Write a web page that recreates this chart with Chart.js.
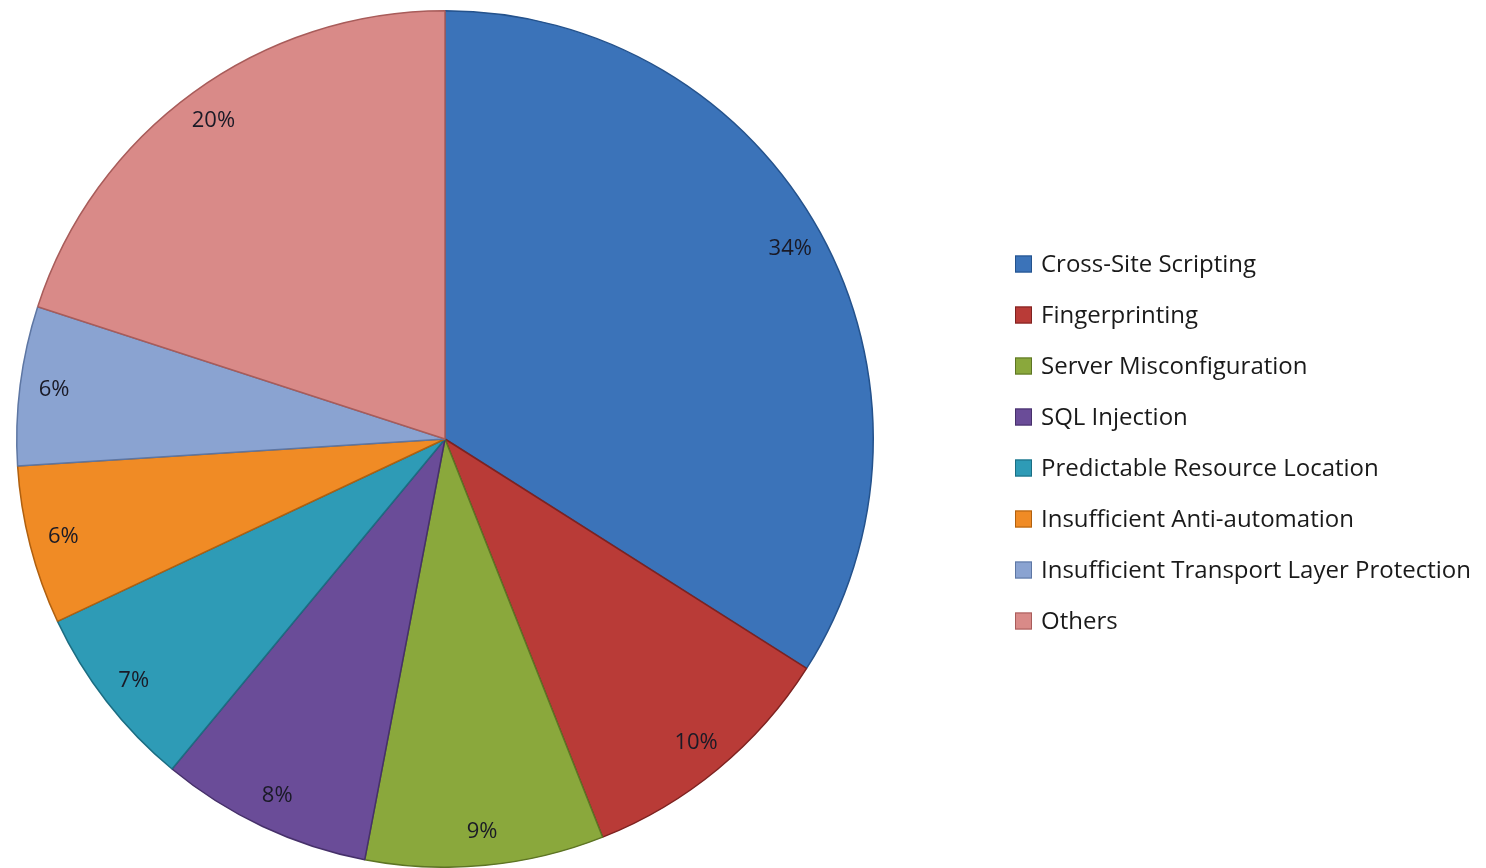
<!DOCTYPE html>
<html>
<head>
<meta charset="utf-8">
<script src="https://cdn.jsdelivr.net/npm/chart.js@4.4.1/dist/chart.umd.min.js"></script>
<style>
  html, body { margin: 0; padding: 0; background: #fff; }
  #wrap { width: 1486px; height: 868px; position: relative; }
</style>
</head>
<body>
<div id="wrap"><canvas id="pieChart" width="1486" height="868"></canvas></div>
<script>
const categories = [
    'Cross-Site Scripting',
    'Fingerprinting',
    'Server Misconfiguration',
    'SQL Injection',
    'Predictable Resource Location',
    'Insufficient Anti-automation',
    'Insufficient Transport Layer Protection',
    'Others'
];
const shares = [34, 10, 9, 8, 7, 6, 6, 20];
const sliceColors = ['#3b73b9', '#b93b37', '#8aa83c', '#6a4c98', '#2e9bb6', '#f08b25', '#8aa3d1', '#d98a88'];
const edgeColors = ['#24528c', '#7e2220', '#5d7424', '#46306a', '#1b6d82', '#b0600f', '#5d76a3', '#a85c5a'];

const ctx = document.getElementById('pieChart').getContext('2d');

// Percentage labels inside each slice, pushed out toward the rim
const sliceLabels = {
    id: 'sliceLabels',
    afterDatasetsDraw(chart) {
        const { ctx } = chart;
        const meta = chart.getDatasetMeta(0);
        ctx.save();
        ctx.font = '22px "Open Sans", "DejaVu Sans", sans-serif';
        ctx.fillStyle = '#1a1a26';
        ctx.textAlign = 'center';
        ctx.textBaseline = 'middle';
        meta.data.forEach((arc, i) => {
            const mid = (arc.startAngle + arc.endAngle) / 2;
            const r = arc.outerRadius * 0.92;
            const x = arc.x + Math.cos(mid) * r;
            const y = arc.y + Math.sin(mid) * r;
            ctx.fillText(shares[i] + '%', x, y);
        });
        ctx.restore();
    }
};

// Legend list on the right side
const sideLegend = {
    id: 'sideLegend',
    afterDraw(chart) {
        const { ctx } = chart;
        const left = 1015, top = 264, step = 51, box = 17;
        ctx.save();
        ctx.font = '24px "Open Sans", "DejaVu Sans", sans-serif';
        ctx.textBaseline = 'middle';
        categories.forEach((name, i) => {
            const y = top + i * step;
            ctx.fillStyle = sliceColors[i];
            ctx.fillRect(left, y - box / 2, box, box);
            ctx.strokeStyle = edgeColors[i];
            ctx.lineWidth = 1;
            ctx.strokeRect(left + 0.5, y - box / 2 + 0.5, box - 1, box - 1);
            ctx.fillStyle = '#1a1a1a';
            ctx.fillText(name, left + 26, y + 1);
        });
        ctx.restore();
    }
};

const pieChart = new Chart(ctx, {
    type: 'pie',
    data: {
        labels: categories,
        datasets: [{
            data: shares,
            backgroundColor: sliceColors,
            borderColor: edgeColors,
            borderWidth: 1.5
        }]
    },
    options: {
        responsive: false,
        animation: false,
        layout: {
            padding: { left: 16, top: 10, right: 612, bottom: 0 }
        },
        plugins: {
            legend: { display: false },
            tooltip: { enabled: false }
        }
    },
    plugins: [sliceLabels, sideLegend]
});
</script>
</body>
</html>
